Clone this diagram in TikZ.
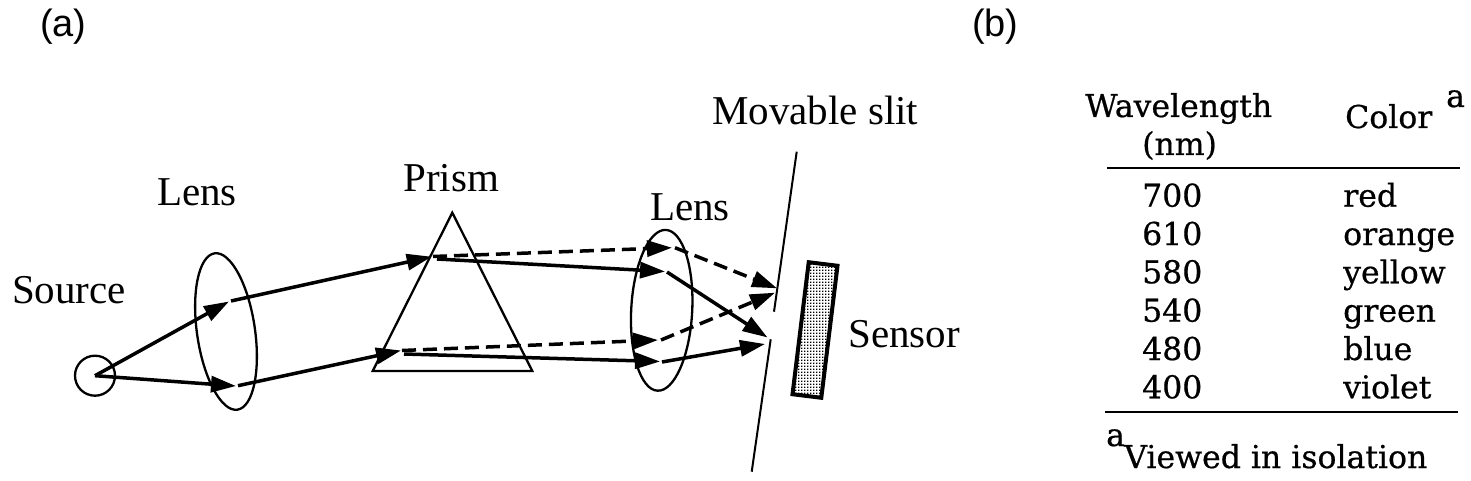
\documentclass[tikz,border=0pt]{standalone}
\usepackage{fontspec}
\setmainfont{Liberation Serif}
\newfontfamily\tabfont[FakeBold=0.6]{DejaVu Serif}
\newfontfamily\labfont{Liberation Sans}
\usetikzlibrary{arrows.meta,shapes.geometric,patterns}
\pgfdeclarepatternformonly{sqdots}{\pgfpointorigin}{\pgfpoint{3pt}{3pt}}{\pgfpoint{3pt}{3pt}}{%
  \pgfpathrectangle{\pgfpointorigin}{\pgfpoint{1.8pt}{1.8pt}}\pgfusepath{fill}}
\begin{document}
\begin{tikzpicture}[x=1pt,y=-1pt,
  lbl/.style={font=\fontsize{41}{49}\selectfont, inner sep=0pt, anchor=base west},
  panel/.style={font=\labfont\fontsize{38}{45}\selectfont, inner sep=0pt, anchor=base west},
  tab/.style={font=\tabfont\fontsize{31.5}{38}\selectfont, inner sep=0pt, anchor=base west},
  ray/.style={line width=3.5pt, -{Triangle[length=25pt,width=16pt]}},
  dray/.style={ray, dash pattern=on 14pt off 7pt},
  optic/.style={draw, line width=2.3pt},
  lensshape/.style={optic, ellipse, inner sep=0pt},
  rule/.style={line width=2pt},
]
\useasboundingbox (0,0) rectangle (1471,481);

% panel labels
\node[panel] (pa) at (40,36.5) {(a)};
\node[panel] (pb) at (972,36.5) {(b)};

% labels
\node[lbl] (tsource) at (12,303) {Source};
\node[lbl] (tlens1) at (157,205) {Lens};
\node[lbl] (tprism) at (403,191.7) {Prism};
\node[lbl] (tlens2) at (650,220) {Lens};
\node[lbl] (tslit) at (712,125) {Movable slit};
\node[lbl] (tsensor) at (848,347) {Sensor};

% optics
\node[optic, circle, minimum size=40pt, inner sep=0pt] (src) at (95,375.7) {};
\node[lensshape, minimum width=58pt, minimum height=158pt, rotate=8.3] (lens1) at (226,331.5) {};
\node[lensshape, minimum width=61pt, minimum height=161pt, rotate=-3] (lens2) at (661.7,310.3) {};
\coordinate (pA) at (452.3,212.7);
\coordinate (pB) at (372.7,371);
\coordinate (pC) at (532.3,371);
\draw[line width=2.3pt, line join=miter] (pA) -- (pB) -- (pC) -- cycle;

% slit
\coordinate (s1) at (796.7,151.7);
\coordinate (s2) at (774,311.7);
\coordinate (s3) at (770.7,339.3);
\coordinate (s4) at (751.7,471.7);
\draw[line width=2pt] (s1) -- (s2);
\draw[line width=2pt] (s3) -- (s4);

% sensor
\node[draw, line width=4pt, pattern=sqdots, minimum width=29pt, minimum height=133pt, inner sep=0pt, rotate=-7] (sensor) at (815,330) {};

% ray points
\coordinate (u1) at (229,301.5);
\coordinate (u1b) at (231,301);
\coordinate (l1) at (236,386);
\coordinate (l1b) at (238,385.7);
\coordinate (u2) at (431.7,256.7);
\coordinate (l2) at (401,350.5);
\coordinate (ud0) at (433,256.5);
\coordinate (us0) at (437,259);
\coordinate (ld0) at (402,350.5);
\coordinate (ls0) at (404,354);
\coordinate (ud1) at (672,247.7);
\coordinate (us1) at (665,271.5);
\coordinate (ld1) at (658,340);
\coordinate (ls1) at (660,361.5);
\coordinate (ud1b) at (675,247.7);
\coordinate (us1b) at (667,272);
\coordinate (ld1b) at (661,340);
\coordinate (ls1b) at (662,362);
\coordinate (ud2) at (777,288.3);
\coordinate (us2) at (767.5,337.5);
\coordinate (ld2) at (775,292.7);
\coordinate (ls2) at (765,344);

% rays
\draw[ray] (src.center) -- (u1);
\draw[ray] (src.center) -- (l1);
\draw[ray] (u1b) -- (u2);
\draw[ray] (l1b) -- (l2);
\draw[dray] (ud0) -- (ud1);
\draw[ray] (us0) -- (us1);
\draw[dray] (ld0) -- (ld1);
\draw[ray] (ls0) -- (ls1);
\draw[dray] (ud1b) -- (ud2);
\draw[ray] (us1b) -- (us2);
\draw[dray] (ld1b) -- (ld2);
\draw[ray] (ls1b) -- (ls2);

% table
\node[tab] (hwl) at (1085,117) {Wavelength};
\node[tab] (hnm) at (1142,155) {(nm)};
\node[tab] (hcol) at (1345,128) {Color};
\node[tab] (hsup) at (1446,107) {a};
\coordinate (r1a) at (1107,168);
\coordinate (r1b) at (1460,168);
\draw[rule] (r1a) -- (r1b);
\node[tab] (w1) at (1142,206.7) {700};
\node[tab] (c1) at (1343,206.7) {red};
\node[tab] (w2) at (1142,245) {610};
\node[tab] (c2) at (1343,245) {orange};
\node[tab] (w3) at (1142,283.3) {580};
\node[tab] (c3) at (1343,283.3) {yellow};
\node[tab] (w4) at (1142,321.7) {540};
\node[tab] (c4) at (1343,321.7) {green};
\node[tab] (w5) at (1142,360) {480};
\node[tab] (c5) at (1343,360) {blue};
\node[tab] (w6) at (1142,398.3) {400};
\node[tab] (c6) at (1343,398.3) {violet};
\coordinate (r2a) at (1105,412);
\coordinate (r2b) at (1458,412);
\draw[rule] (r2a) -- (r2b);
\node[tab] (fa) at (1106,446) {a};
\node[tab] (fnote) at (1124,468) {Viewed in isolation};
\end{tikzpicture}
\end{document}
